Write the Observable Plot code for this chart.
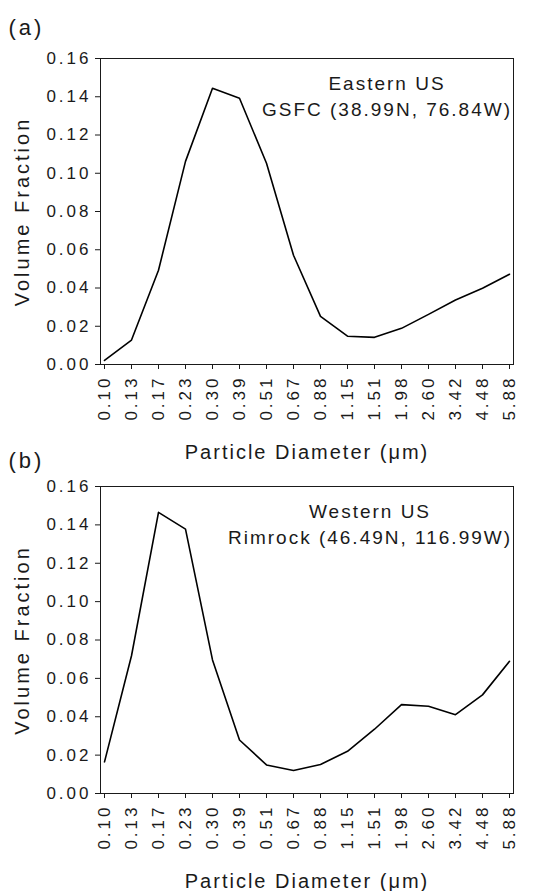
<!DOCTYPE html>
<html>
<head>
<meta charset="utf-8">
<script src="https://cdn.jsdelivr.net/npm/d3@7"></script>
<script src="https://cdn.jsdelivr.net/npm/@observablehq/plot@0.6"></script>
<style>
  html, body { margin: 0; padding: 0; background: #fff; }
  #wrap { position: relative; width: 556px; height: 891px; }
  #wrap svg { position: absolute; left: 0; }
  .xlab text { letter-spacing: 2px; }
  .note text { letter-spacing: 2px; }
  .ylab text { letter-spacing: 3px; }
  .plab text { letter-spacing: 3px; }
</style>
</head>
<body>
<div id="wrap"></div>
<script>
const diameters = ["0.10","0.13","0.17","0.23","0.30","0.39","0.51","0.67","0.88","1.15","1.51","1.98","2.60","3.42","4.48","5.88"];
const easternUS = [0.0021,0.0128,0.0493,0.1062,0.1444,0.1392,0.1052,0.0571,0.0252,0.0148,0.0142,0.0189,0.0262,0.0337,0.0399,0.0472];
const westernUS = [0.0165,0.0718,0.1465,0.1378,0.0696,0.0279,0.0149,0.0120,0.0151,0.0220,0.0335,0.0463,0.0455,0.0411,0.0514,0.0689];
const yTicks = [0,0.02,0.04,0.06,0.08,0.10,0.12,0.14,0.16];
const panelLabels = ["(a)", "(b)"];
const siteLines = [["Eastern US", "GSFC (38.99N, 76.84W)"], ["Western US", "Rimrock (46.49N, 116.99W)"]];
const yLabel = "Volume Fraction";
const xLabel = "Particle Diameter (\u03bcm)";

const FONT = "'Liberation Sans', Arial, Helvetica, sans-serif";
const INK = "#1a1a1a";

function panel(values, label, lines, opts) {
  const data = diameters.map((d, i) => ({d, v: values[i]}));
  return Plot.plot({
    width: 556,
    height: opts.height,
    marginLeft: 100,
    marginRight: 43,
    marginTop: opts.marginTop,
    marginBottom: opts.marginBottom,
    style: {fontFamily: FONT, fontSize: "17px", background: "transparent", color: INK, letterSpacing: "3px", overflow: "visible"},
    x: {type: "point", domain: diameters, padding: 0, label: null},
    y: {domain: [0, 0.16], label: null},
    marks: [
      Plot.axisY(yTicks, {tickFormat: d3.format(".2f"), tickSize: 5, tickPadding: 4, label: null, fontSize: 17, stroke: INK}),
      Plot.axisX(diameters, {tickRotate: -90, tickSize: 5, tickPadding: 6, label: null, fontSize: 17, stroke: INK}),
      Plot.frame({stroke: INK, strokeWidth: 1}),
      Plot.line(data, {x: "d", y: "v", stroke: "#000", strokeWidth: 1.6}),
      Plot.text([yLabel], {frameAnchor: "left", text: d => d, rotate: -90, dx: -78, textAnchor: "middle", lineAnchor: "middle", fontSize: 20, fill: INK, className: "ylab"}),
      Plot.text([xLabel], {frameAnchor: "bottom", text: d => d, dy: 88, textAnchor: "middle", lineAnchor: "middle", fontSize: 20, fill: INK, className: "xlab"}),
      Plot.text([lines.join("\n")], {frameAnchor: "top", text: d => d, dx: opts.noteDx, dy: 13, lineAnchor: "top", lineHeight: 1.37, fontSize: 19, fill: INK, className: "note"}),
      Plot.text([label], {frameAnchor: "top-left", text: d => d, textAnchor: "start", lineAnchor: "middle", dx: -92, dy: opts.labelDy, fontSize: 22, fill: INK, className: "plab"})
    ]
  });
}

const wrap = document.getElementById("wrap");
const a = panel(easternUS, panelLabels[0], siteLines[0], {height: 470, marginTop: 58, marginBottom: 106, noteDx: 80, labelDy: -31});
a.style.top = "0px";
const b = panel(westernUS, panelLabels[1], siteLines[1], {height: 451, marginTop: 46, marginBottom: 98, noteDx: 63, labelDy: -26});
b.style.top = "440px";
wrap.appendChild(a);
wrap.appendChild(b);
</script>
</body>
</html>
